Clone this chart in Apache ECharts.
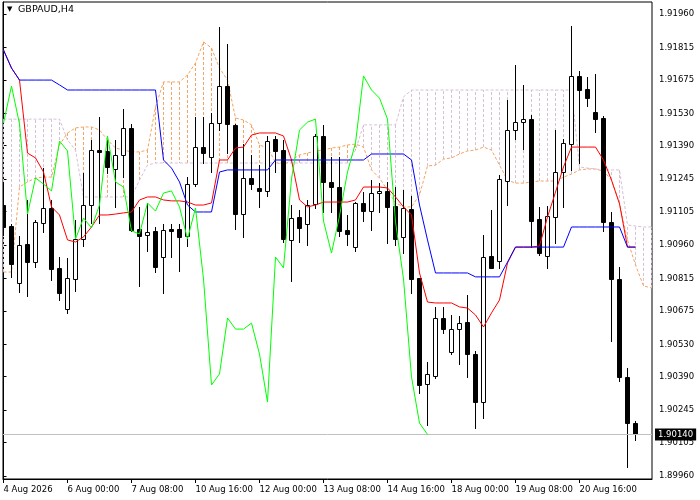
<!DOCTYPE html>
<html><head><meta charset="utf-8">
<script src="https://cdn.jsdelivr.net/npm/echarts@6/dist/echarts.min.js"></script>
<style>html,body{margin:0;padding:0;background:#fff}#c{width:700px;height:500px}</style>
</head><body><div id="c"></div>
<script>
const symbolTitle = 'GBPAUD,H4';
const timeTickBars = [0, 8, 16, 24, 32, 40, 48, 56, 64, 72];
const timeTickLabels = ['4 Aug 2026', '6 Aug 00:00', '7 Aug 08:00', '10 Aug 16:00', '12 Aug 00:00', '13 Aug 08:00', '14 Aug 16:00', '18 Aug 00:00', '19 Aug 08:00', '20 Aug 16:00'];
const priceTicks = [1.91960, 1.91815, 1.91675, 1.91530, 1.91390, 1.91245, 1.91105, 1.90960, 1.90815, 1.90675, 1.90530, 1.90390, 1.90245, 1.90105, 1.89960];
const lastPrice = 1.90140;

const open = [1.91133,1.91042,1.90796,1.90964,1.90886,1.91055,1.91120,1.90861,1.90683,1.90813,
1.90986,1.91133,1.91371,1.91367,1.91289,1.91350,1.91467,1.91029,1.91003,1.91021,
1.90908,1.91029,1.91029,1.90999,1.91224,1.91384,1.91341,1.91488,1.91648,1.91480,
1.91094,1.91250,1.91207,1.91194,1.91419,1.91371,1.90982,1.91081,1.91051,1.91138,
1.91432,1.91233,1.91211,1.91025,1.90951,1.91142,1.91107,1.91185,1.91194,1.91129,
1.90995,1.91116,1.90817,1.90358,1.90393,1.90644,1.90497,1.90596,1.90627,1.90488,
1.90280,1.90912,1.90891,1.91237,1.91458,1.91492,1.91505,1.91073,1.90912,1.91081,
1.91276,1.91397,1.91692,1.91635,1.91536,1.91510,1.91060,1.90813,1.90389,1.90189];
const high = [1.91224,1.91051,1.90999,1.91155,1.91068,1.91293,1.91155,1.90908,1.90904,1.91068,
1.91272,1.91415,1.91514,1.91415,1.91415,1.91549,1.91484,1.91125,1.91142,1.91038,
1.91051,1.91051,1.91051,1.91254,1.91514,1.91514,1.91531,1.91904,1.91830,1.91484,
1.91397,1.91350,1.91306,1.91432,1.91432,1.91415,1.91133,1.91112,1.91155,1.91441,
1.91480,1.91341,1.91341,1.91090,1.91146,1.91189,1.91241,1.91228,1.91233,1.91211,
1.91198,1.91172,1.90817,1.90454,1.90692,1.90692,1.90657,1.90653,1.90744,1.90501,
1.91003,1.91112,1.91263,1.91588,1.91739,1.91653,1.91523,1.91125,1.91129,1.91458,
1.91419,1.91908,1.91713,1.91688,1.91700,1.91518,1.91103,1.90865,1.90428,1.90198];
const low = [1.91003,1.90822,1.90757,1.90739,1.90865,1.91016,1.90809,1.90722,1.90666,1.90761,
1.90956,1.91055,1.91055,1.91272,1.91125,1.91254,1.91021,1.90783,1.90934,1.90843,
1.90752,1.90908,1.90848,1.90956,1.91215,1.91315,1.91276,1.91458,1.91358,1.91029,
1.90995,1.91202,1.91125,1.91172,1.91276,1.90973,1.90804,1.90973,1.90960,1.91120,
1.91103,1.91103,1.90999,1.90960,1.90934,1.91064,1.91025,1.91103,1.90969,1.90960,
1.90925,1.90752,1.90319,1.90181,1.90384,1.90579,1.90488,1.90445,1.90389,1.90168,
1.90211,1.90860,1.90861,1.91133,1.91419,1.91376,1.90951,1.90917,1.90861,1.90969,
1.91125,1.91285,1.91315,1.91562,1.91449,1.91021,1.90544,1.90371,1.89999,1.90116];
const close = [1.91038,1.90878,1.90960,1.90886,1.91060,1.91120,1.90856,1.90752,1.90817,1.90986,
1.91133,1.91371,1.91363,1.91298,1.91350,1.91467,1.91025,1.90999,1.91016,1.90865,
1.91025,1.91021,1.90995,1.91224,1.91384,1.91358,1.91488,1.91648,1.91484,1.91094,
1.91250,1.91224,1.91194,1.91410,1.91367,1.90986,1.91077,1.91034,1.91133,1.91432,
1.91233,1.91211,1.91021,1.91008,1.91142,1.91107,1.91185,1.91194,1.91125,1.90986,
1.91120,1.90813,1.90354,1.90402,1.90644,1.90596,1.90596,1.90622,1.90488,1.90280,
1.90908,1.90861,1.91246,1.91458,1.91492,1.91505,1.91064,1.90925,1.91086,1.91276,
1.91402,1.91692,1.91631,1.91596,1.91505,1.91060,1.90813,1.90389,1.90189,1.90140];

const tenkan = [1.91804,1.91726,1.91674,1.91358,1.91337,1.91276,1.91125,1.91090,1.90982,1.90973,
1.90995,1.91038,1.91090,1.91090,1.91094,1.91099,1.91103,1.91155,1.91168,1.91168,
1.91155,1.91151,1.91151,1.91146,1.91133,1.91133,1.91142,1.91328,1.91328,1.91380,
1.91384,1.91436,1.91445,1.91445,1.91445,1.91432,1.91328,1.91155,1.91125,1.91133,
1.91146,1.91146,1.91146,1.91146,1.91155,1.91211,1.91211,1.91211,1.91207,1.91168,
1.91125,1.91090,1.90839,1.90713,1.90709,1.90709,1.90709,1.90692,1.90687,1.90657,
1.90605,1.90666,1.90722,1.90882,1.90951,1.90951,1.90951,1.90956,1.91081,1.91189,
1.91298,1.91384,1.91384,1.91384,1.91384,1.91328,1.91241,1.91138,1.90951,1.90951];
const kijun = [1.91804,1.91726,1.91674,1.91674,1.91674,1.91674,1.91674,1.91653,1.91631,1.91631,
1.91631,1.91631,1.91631,1.91631,1.91631,1.91631,1.91631,1.91631,1.91631,1.91631,
1.91328,1.91293,1.91233,1.91133,1.91103,1.91103,1.91103,1.91276,1.91285,1.91285,
1.91285,1.91285,1.91285,1.91285,1.91328,1.91328,1.91328,1.91328,1.91328,1.91328,
1.91328,1.91328,1.91328,1.91328,1.91328,1.91328,1.91354,1.91354,1.91354,1.91354,
1.91354,1.91328,1.91133,1.90982,1.90839,1.90839,1.90839,1.90839,1.90839,1.90822,
1.90822,1.90822,1.90822,1.90886,1.90951,1.90951,1.90951,1.90951,1.90951,1.90951,
1.90951,1.91038,1.91038,1.91038,1.91038,1.91038,1.91038,1.91038,1.90951,1.90951];
const chikou = [1.91488,1.91648,1.91484,1.91094,1.91250,1.91224,1.91194,1.91410,1.91367,1.90986,
1.91077,1.91034,1.91133,1.91432,1.91233,1.91211,1.91021,1.91008,1.91142,1.91107,
1.91185,1.91194,1.91125,1.90986,1.91120,1.90813,1.90354,1.90402,1.90644,1.90596,
1.90596,1.90622,1.90488,1.90280,1.90908,1.90861,1.91246,1.91458,1.91492,1.91505,
1.91064,1.90925,1.91086,1.91276,1.91402,1.91692,1.91631,1.91596,1.91505,1.91060,
1.90813,1.90389,1.90189,1.90140];
const spanA = [1.90843,1.90843,1.91211,1.91233,1.91250,1.91254,1.91254,1.91393,1.91445,1.91467,
1.91471,1.91471,1.91458,1.91415,1.91380,1.91371,1.91363,1.91363,1.91371,1.91557,
1.91666,1.91666,1.91666,1.91696,1.91748,1.91839,1.91813,1.91726,1.91674,1.91510,
1.91501,1.91480,1.91393,1.91380,1.91319,1.91306,1.91328,1.91350,1.91358,1.91367,
1.91371,1.91380,1.91384,1.91393,1.91397,1.91384,1.91285,1.91250,1.91198,1.91142,
1.91125,1.91125,1.91177,1.91302,1.91306,1.91332,1.91337,1.91354,1.91367,1.91371,
1.91384,1.91371,1.91306,1.91241,1.91228,1.91228,1.91233,1.91237,1.91237,1.91237,
1.91254,1.91267,1.91285,1.91289,1.91289,1.91280,1.91241,1.91142,1.90982,1.90874,
1.90783,1.90774];
const spanB = [1.91505,1.91505,1.91505,1.91505,1.91505,1.91505,1.91505,1.91505,1.91415,1.91371,
1.91168,1.91168,1.91168,1.91168,1.91168,1.91168,1.91168,1.91241,1.91306,1.91315,
1.91315,1.91315,1.91315,1.91315,1.91315,1.91315,1.91315,1.91315,1.91315,1.91315,
1.91315,1.91315,1.91315,1.91315,1.91315,1.91315,1.91315,1.91315,1.91315,1.91315,
1.91315,1.91315,1.91315,1.91315,1.91371,1.91480,1.91480,1.91480,1.91480,1.91480,
1.91601,1.91631,1.91631,1.91631,1.91631,1.91631,1.91631,1.91631,1.91631,1.91631,
1.91631,1.91631,1.91631,1.91631,1.91631,1.91631,1.91631,1.91631,1.91631,1.91631,
1.91631,1.91631,1.91298,1.91293,1.91289,1.91285,1.91285,1.91285,1.91047,1.91042,
1.91038,1.91038];

const SANDY = '#F4A460', THISTLE = '#D8BFD8';
const FONT = 'DejaVu Sans';

function renderCandle(params, api) {
  const i = api.value(0), o = api.value(1), h = api.value(2), l = api.value(3), c = api.value(4);
  const pO = api.coord([i, o]), pC = api.coord([i, c]), pH = api.coord([i, h]), pL = api.coord([i, l]);
  const cx = Math.floor(pO[0] + 0.01) + 0.5;
  const top = Math.round(Math.min(pO[1], pC[1])), bot = Math.round(Math.max(pO[1], pC[1]));
  const bull = c >= o;
  return {
    type: 'group',
    children: [
      { type: 'line', shape: { x1: cx, y1: Math.round(pH[1]), x2: cx, y2: Math.round(pL[1]) + 1 }, style: { stroke: '#000', lineWidth: 1 } },
      { type: 'rect', shape: { x: cx - 2, y: top + 0.5, width: 4, height: Math.max(bot - top, 1) },
        style: { fill: bull ? '#fff' : '#000', stroke: '#000', lineWidth: 1 } }
    ]
  };
}
function renderHatch(params, api) {
  const i = api.value(0), a = api.value(1), b = api.value(2);
  const pA = api.coord([i, a]), pB = api.coord([i, b]);
  const cx = Math.floor(pA[0] + 0.01) + 0.5;
  return { type: 'line', shape: { x1: cx, y1: pA[1], x2: cx, y2: pB[1] },
    style: { stroke: a >= b ? SANDY : THISTLE, lineWidth: 1, lineDash: [3, 2] } };
}
const xy = arr => arr.map((v, i) => [i, v]);

const chart = echarts.init(document.getElementById('c'), null, { renderer: 'canvas' });
chart.setOption({
  animation: false,
  backgroundColor: '#fff',
  title: [
    { text: '▼', left: 7, top: 6, padding: 0, textStyle: { fontSize: 7, color: '#000', fontWeight: 'normal', fontFamily: FONT } },
    { text: symbolTitle, left: 18, top: 5, padding: 0, textStyle: { fontSize: 9.5, color: '#000', fontWeight: 'normal', fontFamily: FONT } }
  ],
  grid: { left: 3, right: 48, top: 2, bottom: 21, show: true, borderColor: '#000', borderWidth: 1, backgroundColor: '#fff' },
  xAxis: {
    type: 'value', min: -0.0625, max: 81.0625,
    axisLine: { show: true, onZero: false, lineStyle: { color: '#000', width: 1 } },
    axisTick: { show: true, customValues: timeTickBars, length: 4, lineStyle: { color: '#000' } },
    axisLabel: { show: true, customValues: timeTickBars, align: 'left', margin: 6,
      color: '#000', fontSize: 8.5, fontFamily: FONT,
      formatter: v => timeTickLabels[timeTickBars.indexOf(Math.round(v))] || '' },
    splitLine: { show: false }
  },
  yAxis: {
    type: 'value', position: 'right', min: 1.89947, max: 1.92012, scale: true,
    axisLine: { show: true, lineStyle: { color: '#000', width: 1 } },
    axisTick: { show: true, customValues: priceTicks, length: 3, lineStyle: { color: '#000' } },
    axisLabel: { show: true, customValues: priceTicks, margin: 7, color: '#000', fontSize: 8.5, fontFamily: FONT,
      padding: [4, 0, 0, 0], formatter: v => v.toFixed(5) },
    splitLine: { show: false }
  },
  series: [
    { type: 'custom', name: 'Kumo', renderItem: renderHatch, clip: true, silent: true, z: 1,
      encode: { x: 0, y: [1, 2] },
      data: spanA.map((a, i) => [i, a, spanB[i]]) },
    { type: 'line', name: 'Senkou Span A', data: xy(spanA), showSymbol: false, z: 2, silent: true,
      lineStyle: { color: SANDY, width: 1, type: [3, 2] } },
    { type: 'line', name: 'Senkou Span B', data: xy(spanB), showSymbol: false, z: 2, silent: true,
      lineStyle: { color: THISTLE, width: 1, type: [3, 2] } },
    { type: 'line', name: 'Last price', data: [[0, lastPrice]], showSymbol: false, z: 2, silent: true,
      lineStyle: { width: 0, opacity: 0 },
      markLine: { symbol: 'none', silent: true, animation: false, precision: 5,
        data: [{ yAxis: lastPrice }],
        lineStyle: { color: '#C0C0C0', type: 'solid', width: 1 },
        label: { show: true, position: 'end', distance: 3, formatter: lastPrice.toFixed(5),
          backgroundColor: '#000', color: '#fff', padding: [2, 3, 1, 3], fontSize: 8.5, fontFamily: FONT } } },
    { type: 'custom', name: 'GBPAUD', renderItem: renderCandle, clip: true, z: 3,
      encode: { x: 0, y: [1, 2, 3, 4] },
      data: open.map((o, i) => [i, o, high[i], low[i], close[i]]) },
    { type: 'line', name: 'Tenkan-sen', data: xy(tenkan), showSymbol: false, z: 4, silent: true,
      lineStyle: { color: '#FF0000', width: 1 } },
    { type: 'line', name: 'Kijun-sen', data: xy(kijun), showSymbol: false, z: 5, silent: true,
      lineStyle: { color: '#0000FF', width: 1 } },
    { type: 'line', name: 'Chikou Span', data: xy(chikou), showSymbol: false, z: 6, silent: true,
      lineStyle: { color: '#00FF00', width: 1 } }
  ]
});
</script></body></html>
